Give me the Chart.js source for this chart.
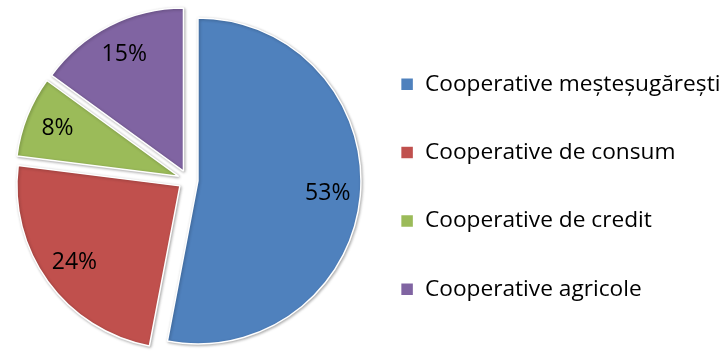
<!DOCTYPE html>
<html>
<head>
<meta charset="utf-8">
<script src="https://cdn.jsdelivr.net/npm/chart.js@4"></script>
<style>
  html, body { margin: 0; padding: 0; background: #fff; }
  #wrap { width: 728px; height: 356px; }
</style>
</head>
<body>
<div id="wrap"><canvas id="chart"></canvas></div>
<script>
// data
const categories = [
  "Cooperative meșteșugărești",
  "Cooperative de consum",
  "Cooperative de credit",
  "Cooperative agricole",
]
const shares = [53, 24, 8, 15]

const colors = ["#4F81BD", "#C0504D", "#9BBB59", "#8064A2"]
const fontFamily = "Open Sans"
const explode = 10 // px each slice is pulled out

// pull every slice out along its middle angle, with a soft shadow
const explodePlugin = {
  id: "explode",
  afterDatasetUpdate(chart, args) {
    args.meta.data.forEach((arc) => {
      arc.draw = function (ctx) {
        const mid = (this.startAngle + this.endAngle) / 2
        ctx.save()
        ctx.translate(Math.cos(mid) * explode, Math.sin(mid) * explode)
        ctx.shadowColor = "rgba(0, 0, 0, 0.3)"
        ctx.shadowBlur = 3
        ctx.shadowOffsetX = 1
        ctx.shadowOffsetY = 1
        Chart.ArcElement.prototype.draw.call(this, ctx)
        ctx.restore()
      }
    })
  },
}

// percentage labels inside the slices
const labelPlugin = {
  id: "sliceLabels",
  afterDatasetsDraw(chart) {
    const ctx = chart.ctx
    const meta = chart.getDatasetMeta(0)
    ctx.save()
    ctx.font = `23px ${fontFamily}`
    ctx.fillStyle = "#000"
    ctx.textAlign = "center"
    ctx.textBaseline = "middle"
    meta.data.forEach((arc, i) => {
      const mid = (arc.startAngle + arc.endAngle) / 2
      const r = arc.outerRadius * 0.8 + explode
      ctx.fillText(`${shares[i]}%`, arc.x + Math.cos(mid) * r, arc.y + Math.sin(mid) * r)
    })
    ctx.restore()
  },
}

// fixed legend width so the pie sits where it does in the picture
const legendWidthPlugin = {
  id: "legendWidth",
  beforeInit(chart) {
    const fit = chart.legend.fit
    chart.legend.fit = function () {
      fit.call(this)
      this.width = 373
    }
  },
}

const ctx = document.getElementById("chart").getContext("2d")

new Chart(ctx, {
  type: "pie",
  data: {
    labels: categories,
    datasets: [
      {
        data: shares,
        backgroundColor: colors,
        borderColor: "#fff",
        borderWidth: 1.5,
        radius: 163,
        hoverOffset: 0,
      },
    ],
  },
  options: {
    responsive: true,
    maintainAspectRatio: false,
    animation: false,
    layout: {
      padding: { left: 21, top: 4, right: 0, bottom: 0 },
    },
    plugins: {
      tooltip: { enabled: false },
      legend: {
        position: "right",
        title: { display: true, text: "", font: { size: 6, lineHeight: 2.25 } },
        labels: {
          boxWidth: 13,
          boxHeight: 13,
          padding: 45.6,
          color: "#000",
          font: { family: fontFamily, size: 22.7 },
        },
      },
    },
  },
  plugins: [explodePlugin, labelPlugin, legendWidthPlugin],
})
</script>
</body>
</html>
